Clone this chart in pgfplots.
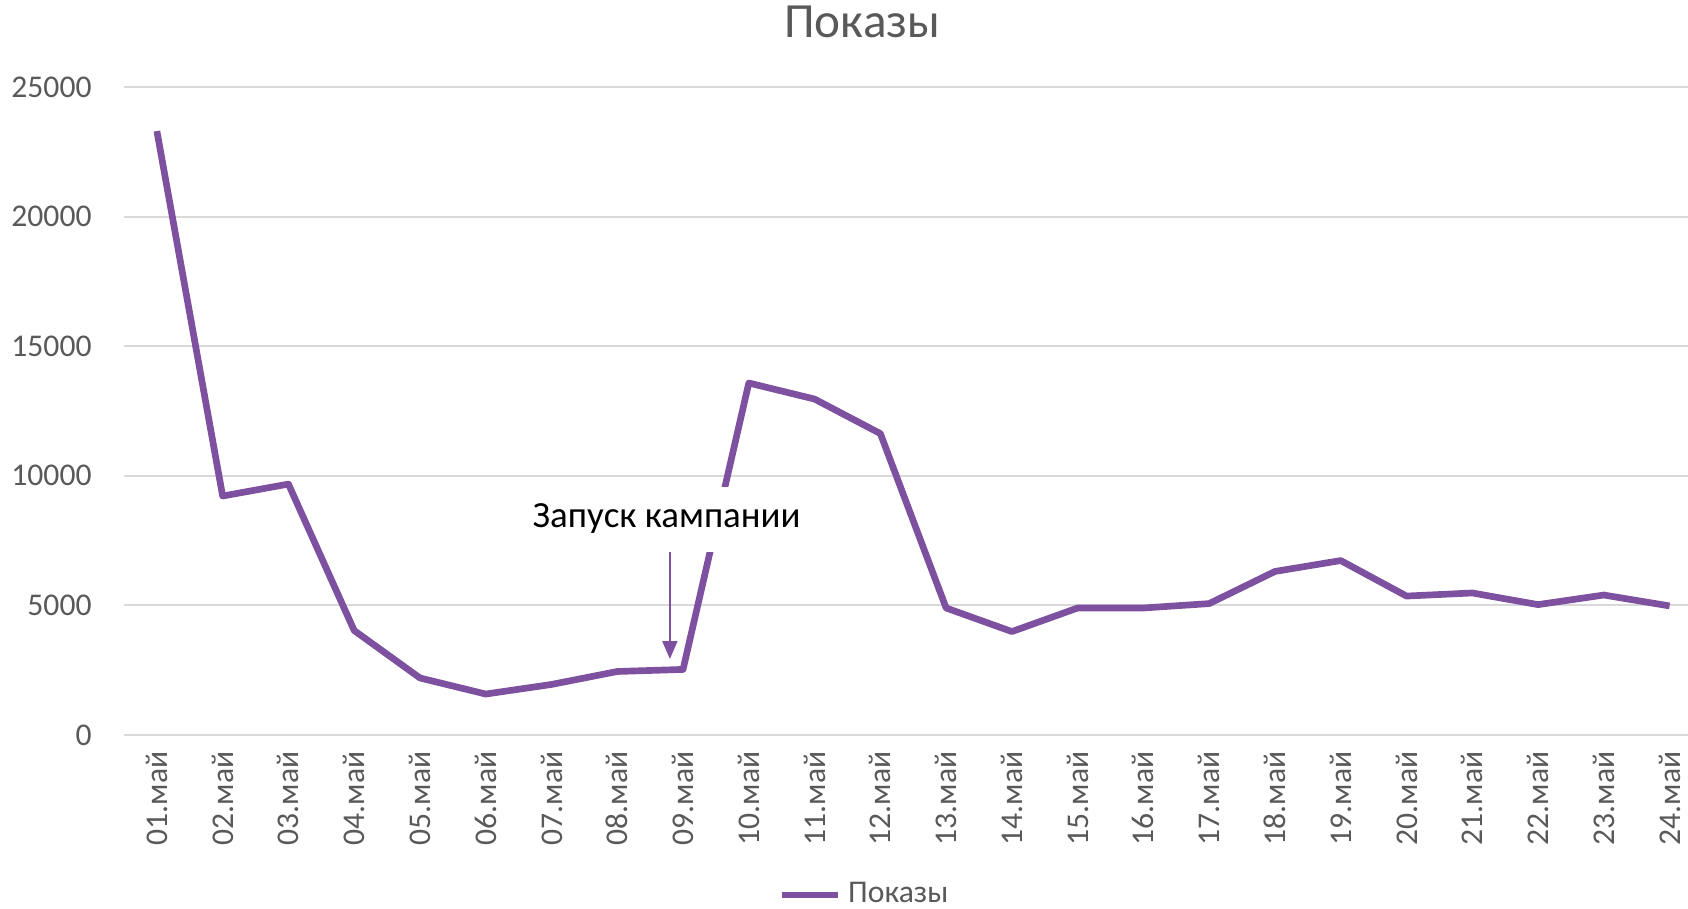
\documentclass[border=0pt]{standalone}
\usepackage{pgfplots}
\pgfplotsset{compat=1.18}
\usetikzlibrary{arrows.meta}
\usepackage{fontspec}
\setmainfont{Carlito}
\definecolor{linepurple}{HTML}{7E50A0}
\definecolor{txtgray}{HTML}{595959}
\definecolor{gridgray}{HTML}{D9D9D9}
\begin{document}
\begin{tikzpicture}
\path[use as bounding box] (-12.4mm,-17.4mm) rectangle (156.4mm,73.5mm);
\begin{axis}[
  scale only axis,
  width=156.4mm, height=64.8mm,
  xmin=-0.5, xmax=23.28,
  ymin=0, ymax=25000,
  xtick={0,...,23},
  xticklabels={01.май,02.май,03.май,04.май,05.май,06.май,07.май,08.май,09.май,10.май,11.май,12.май,13.май,14.май,15.май,16.май,17.май,18.май,19.май,20.май,21.май,22.май,23.май,24.май},
  ytick={0,5000,10000,15000,20000,25000},
  yticklabels={0,5000,10000,15000,20000,25000},
  scaled y ticks=false,
  ymajorgrids,
  major grid style={gridgray, line width=0.6pt},
  axis line style={draw=none},
  tick style={draw=none},
  tick label style={font=\fontsize{9}{11}\selectfont, text=txtgray},
  xticklabel style={yshift=-0.4mm, rotate=90, anchor=east},
  yticklabel style={xshift=-2.0mm},
  title={Показы},
  title style={at={(0.472,1)}, anchor=center, yshift=4.4mm, font=\fontsize{14}{16}\selectfont, text=txtgray},
  legend style={at={(0.475,-0.247)}, anchor=center, draw=none, font=\fontsize{9}{11}\selectfont, text=txtgray},
  legend image code/.code={\draw[#1] (0mm,0mm) -- (5.6mm,0mm);},
]
\addplot[linepurple, line width=1.9pt, line join=round] coordinates {
  (0,23300) (1,9220) (2,9680) (3,4030) (4,2200) (5,1580) (6,1950) (7,2450)
  (8,2530) (9,13580) (10,12960) (11,11630) (12,4900) (13,3990) (14,4900)
  (15,4900) (16,5070) (17,6310) (18,6730) (19,5360) (20,5480) (21,5030)
  (22,5400) (23,4980)
};
\legend{Показы}
\draw[-{Stealth[length=1.8mm,width=1.5mm,inset=0pt]}, linepurple, line width=0.6pt]
  (axis cs:7.80,7176) -- (axis cs:7.80,2932);
\node[fill=white, inner xsep=2mm, inner ysep=0pt, minimum height=6.5mm,
  font=\fontsize{10.5}{12}\selectfont] at (axis cs:7.75,8333) {Запуск кампании};
\end{axis}
\end{tikzpicture}
\end{document}
